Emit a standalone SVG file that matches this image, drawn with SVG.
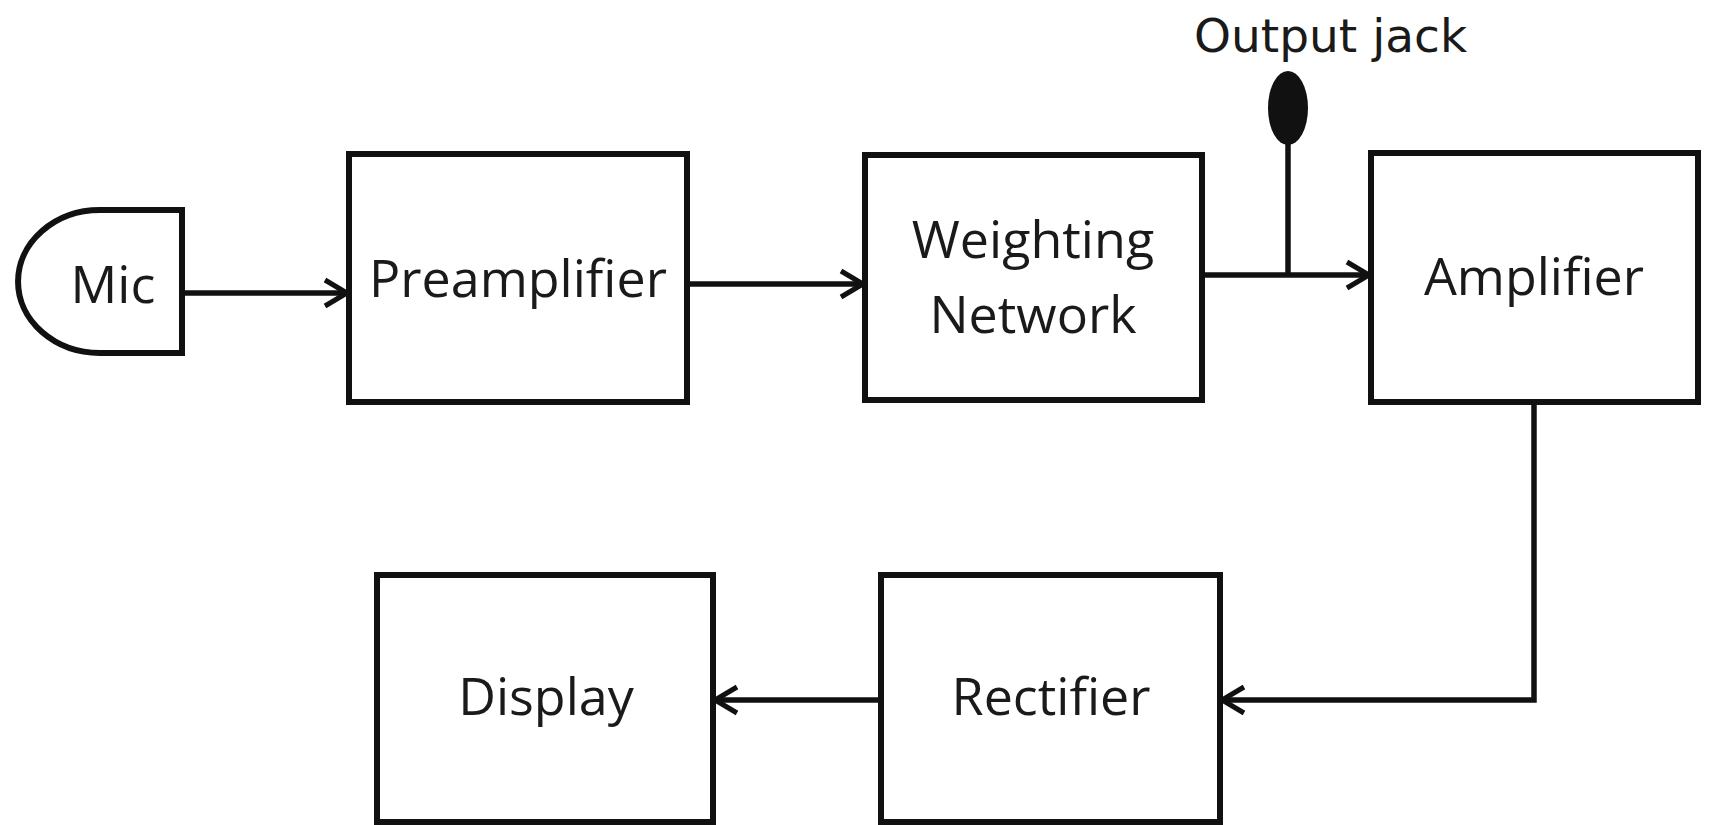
<svg xmlns="http://www.w3.org/2000/svg" width="1711" height="825" viewBox="0 0 1711 825">
<defs>
<style>
.box{fill:#fff;stroke:#111;stroke-width:6}
.lbl{font-family:"Open Sans","DejaVu Sans",sans-serif;font-size:52px;fill:#1a1a1a;text-anchor:middle}
.conn{fill:none;stroke:#111;stroke-width:5.5}
</style>
<marker id="arr" viewBox="-28 -16 32 32" markerWidth="32" markerHeight="32" refX="0" refY="0" orient="auto" markerUnits="userSpaceOnUse">
<path d="M-22,-13 L0,0 L-22,13" fill="none" stroke="#111" stroke-width="5"/>
</marker>
</defs>
<rect width="1711" height="825" fill="#fff"/>
<g id="mic">
<path class="box" d="M182,210 H100 A82,71.5 0 0 0 100,353 H182 Z"/>
<text class="lbl" x="113" y="303">Mic</text>
</g>
<g id="preamplifier">
<rect class="box" x="349" y="154" width="338" height="248"/>
<text class="lbl" x="518" y="297">Preamplifier</text>
</g>
<g id="weighting">
<rect class="box" x="865" y="155" width="337" height="245"/>
<text class="lbl" x="1033" y="258">Weighting</text>
<text class="lbl" x="1033" y="333">Network</text>
</g>
<g id="amplifier">
<rect class="box" x="1371" y="153" width="327" height="249"/>
<text class="lbl" x="1534" y="295">Amplifier</text>
</g>
<g id="rectifier">
<rect class="box" x="881" y="575" width="339" height="247"/>
<text class="lbl" x="1051" y="715">Rectifier</text>
</g>
<g id="display">
<rect class="box" x="377" y="575" width="336" height="247"/>
<text class="lbl" x="546" y="715">Display</text>
</g>
<g id="output-jack">
<ellipse cx="1288" cy="108" rx="20" ry="37" fill="#111"/>
<text x="1194" y="52" font-family="DejaVu Sans, sans-serif" font-size="47" fill="#1a1a1a">Output jack</text>
</g>
<g id="connectors">
<path class="conn" d="M182,293 H347" marker-end="url(#arr)"/>
<path class="conn" d="M687,284 H863" marker-end="url(#arr)"/>
<path class="conn" d="M1202,275 H1369" marker-end="url(#arr)"/>
<path class="conn" d="M1288,140 V275"/>
<path class="conn" d="M1534,402 V700 H1222" marker-end="url(#arr)"/>
<path class="conn" d="M881,700 H715" marker-end="url(#arr)"/>
</g>
</svg>
